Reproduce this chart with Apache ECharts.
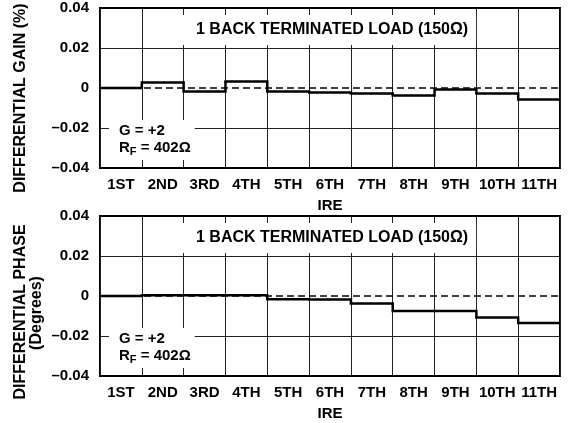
<!DOCTYPE html>
<html>
<head>
<meta charset="utf-8">
<script src="https://cdn.jsdelivr.net/npm/echarts@6/dist/echarts.min.js"></script>
<style>
  html, body { margin: 0; padding: 0; background: #fff; }
  #chart { width: 569px; height: 423px; }
</style>
</head>
<body>
<div id="chart"></div>
<script>
// IRE steps shared by both panels
const categories = ['1ST', '2ND', '3RD', '4TH', '5TH', '6TH', '7TH', '8TH', '9TH', '10TH', '11TH']

// differential gain (%) per step
const gainValues = [0, 0.0027, -0.0017, 0.0033, -0.0017, -0.0022, -0.0028, -0.0037, -0.0007, -0.0027, -0.0058]

// differential phase (degrees) per step
const phaseValues = [0, 0.0004, 0.0004, 0.0004, -0.0016, -0.0017, -0.0037, -0.0075, -0.0075, -0.0107, -0.0135]

const yTicks = { min: -0.04, max: 0.04, step: 0.02 }

const FONT = '"Liberation Sans", Arial, Helvetica, sans-serif'

// each step spans the whole column: [i, v] -> [i + 1, v]
function stepCoords(values) {
  const pts = []
  values.forEach((v, i) => {
    pts.push([i, v])
    pts.push([i + 1, v])
  })
  return pts
}

function tickLabel(v) {
  if (Math.abs(v) < 1e-9) return '0'
  return (v < 0 ? '\u2013' : '') + Math.abs(v).toFixed(2)
}

const grids = [
  { left: 100, right: 9, top: 8, height: 160 },
  { left: 100, right: 9, top: 216, height: 160 }
]

function catAxis(gridIndex) {
  return {
    type: 'category',
    gridIndex,
    data: categories,
    boundaryGap: true,
    name: 'IRE',
    nameLocation: 'middle',
    nameGap: 30,
    nameTextStyle: { color: '#000', fontWeight: 'bold', fontSize: 15, fontFamily: FONT },
    axisLine: { show: false },
    axisTick: { show: false },
    axisLabel: { color: '#000', fontWeight: 'bold', fontSize: 15, fontFamily: FONT, margin: 9, interval: 0 },
    splitLine: { show: true, interval: 0, lineStyle: { color: '#222', width: 1 } }
  }
}

function valAxisX(gridIndex) {
  return { type: 'value', gridIndex, min: 0, max: categories.length, show: false }
}

function valAxisY(gridIndex) {
  return {
    type: 'value',
    gridIndex,
    min: yTicks.min,
    max: yTicks.max,
    interval: yTicks.step,
    axisLine: { show: false },
    axisTick: { show: false },
    axisLabel: {
      color: '#000', fontWeight: 'bold', fontSize: 15, fontFamily: FONT, margin: 11,
      formatter: tickLabel
    },
    splitLine: {
      show: true,
      lineStyle: { color: ['transparent', '#222', 'transparent', '#222', 'transparent'], width: 1 }
    }
  }
}

function stepSeries(values, xAxisIndex, yAxisIndex) {
  return {
    type: 'lines',
    coordinateSystem: 'cartesian2d',
    xAxisIndex,
    yAxisIndex,
    polyline: true,
    silent: true,
    z: 3,
    lineStyle: { color: '#000', width: 2.5, opacity: 1, join: 'miter' },
    data: [{ coords: stepCoords(values) }]
  }
}

function zeroSeries(xAxisIndex, yAxisIndex) {
  return {
    type: 'lines',
    coordinateSystem: 'cartesian2d',
    xAxisIndex,
    yAxisIndex,
    polyline: true,
    silent: true,
    z: 4,
    lineStyle: { color: '#000', width: 1.5, opacity: 1, type: [7, 4] },
    data: [{ coords: [[0, 0], [categories.length, 0]] }]
  }
}

const loadTitle = top => ({
  text: '1 BACK TERMINATED LOAD (150\u03A9)',
  left: 176,
  top,
  padding: [7, 8, 7, 20],
  backgroundColor: '#fff',
  textStyle: { color: '#000', fontWeight: 'bold', fontSize: 16, fontFamily: FONT }
})

const gainTitle = top => ({
  text: '{a|G = +2}\n{a|R}{s|F}{a| = 402\u03A9}',
  left: 109,
  top,
  padding: [3, 4, 3, 10],
  backgroundColor: '#fff',
  textStyle: {
    rich: {
      a: { color: '#000', fontWeight: 'bold', fontSize: 15, fontFamily: FONT, lineHeight: 17 },
      s: { color: '#000', fontWeight: 'bold', fontSize: 11, fontFamily: FONT, padding: [7, 0, 0, 0] }
    }
  }
})

const chart = echarts.init(document.getElementById('chart'))

chart.setOption({
  animation: false,
  backgroundColor: '#fff',
  grid: grids.map(g => Object.assign({ show: true, borderColor: '#000', borderWidth: 2, backgroundColor: 'transparent' }, g)),
  title: [loadTitle(15), gainTitle(119), loadTitle(223), gainTitle(327)],
  xAxis: [catAxis(0), valAxisX(0), catAxis(1), valAxisX(1)],
  yAxis: [valAxisY(0), valAxisY(1)],
  series: [
    stepSeries(gainValues, 1, 0), zeroSeries(1, 0),
    stepSeries(phaseValues, 3, 1), zeroSeries(3, 1)
  ],
  graphic: [
    {
      type: 'text', x: 21, y: 98, rotation: Math.PI / 2,
      style: { text: 'DIFFERENTIAL GAIN (%)', fill: '#000', font: 'bold 16px ' + FONT, align: 'center', verticalAlign: 'middle' }
    },
    {
      type: 'text', x: 21, y: 312, rotation: Math.PI / 2,
      style: { text: 'DIFFERENTIAL PHASE', fill: '#000', font: 'bold 16px ' + FONT, align: 'center', verticalAlign: 'middle' }
    },
    {
      type: 'text', x: 37, y: 313, rotation: Math.PI / 2,
      style: { text: '(Degrees)', fill: '#000', font: 'bold 16px ' + FONT, align: 'center', verticalAlign: 'middle' }
    }
  ]
})
</script>
</body>
</html>
